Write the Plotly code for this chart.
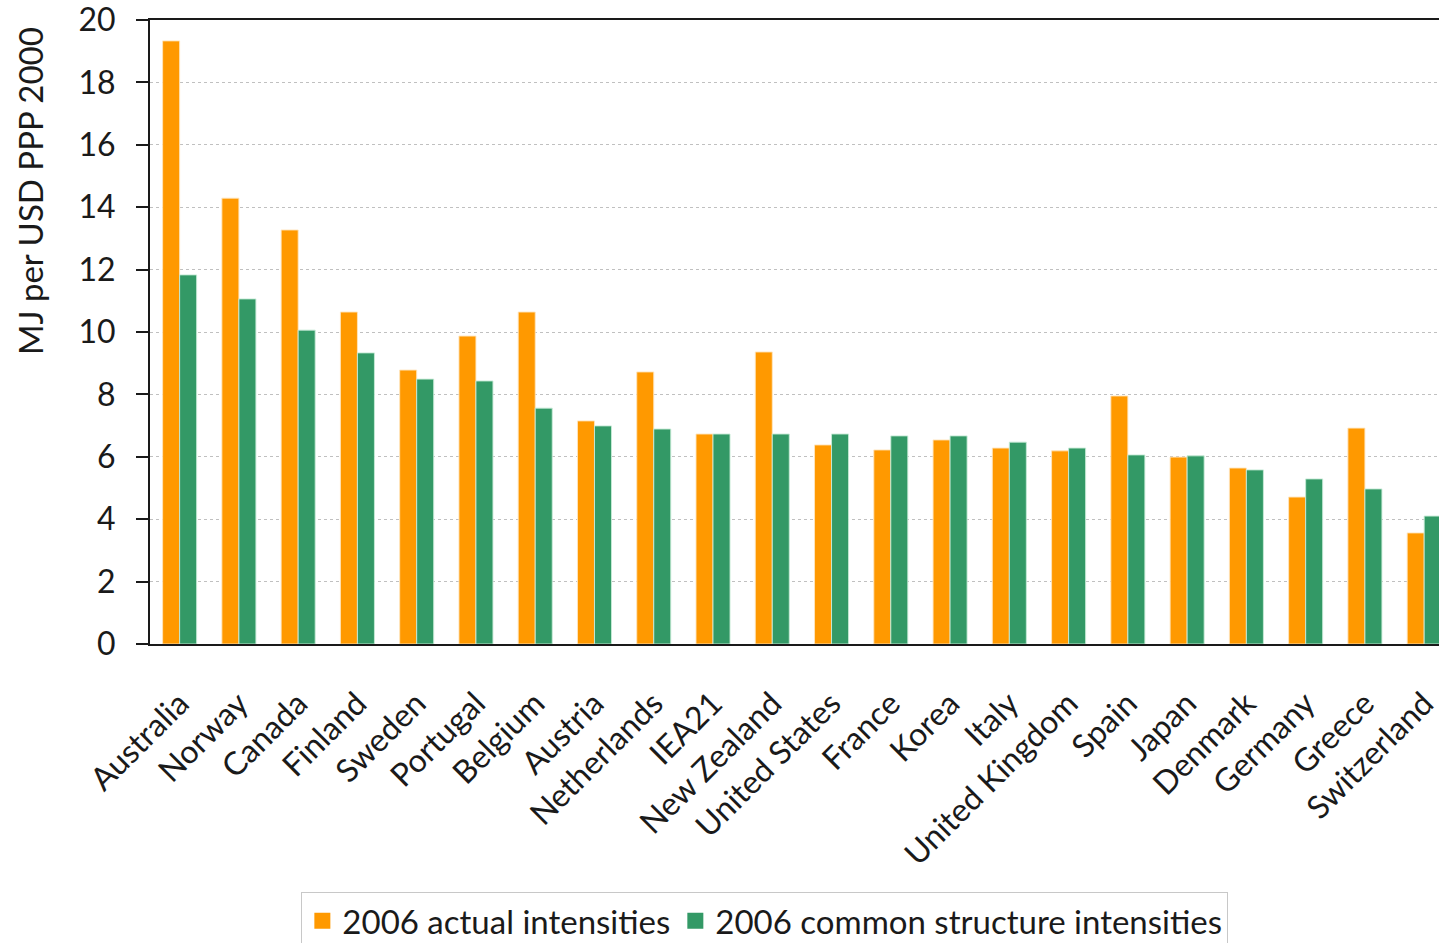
import plotly.graph_objects as go

countries = ["Australia", "Norway", "Canada", "Finland", "Sweden", "Portugal",
             "Belgium", "Austria", "Netherlands", "IEA21", "New Zealand",
             "United States", "France", "Korea", "Italy", "United Kingdom",
             "Spain", "Japan", "Denmark", "Germany", "Greece", "Switzerland"]
actual_2006 = [19.33, 14.29, 13.27, 10.64, 8.78, 9.87, 10.64, 7.15, 8.72, 6.73,
               9.36, 6.38, 6.22, 6.54, 6.28, 6.19, 7.95, 5.99, 5.64, 4.71, 6.92, 3.56]
common_2006 = [11.83, 11.06, 10.06, 9.33, 8.49, 8.43, 7.56, 6.99, 6.89, 6.73,
               6.73, 6.73, 6.67, 6.67, 6.47, 6.28, 6.06, 6.03, 5.58, 5.29, 4.97, 4.10]
y_ticks = [0, 2, 4, 6, 8, 10, 12, 14, 16, 18, 20]
series_names = ["2006 actual intensities", "2006 common structure intensities"]

FONT = "Lato"
TXT = "#1a1a1a"
ORANGE = "#FF9900"
GREEN = "#339966"

fig = go.Figure()
fig.add_trace(go.Bar(x=countries, y=actual_2006, name=series_names[0], showlegend=False,
                     marker=dict(color=ORANGE, line=dict(color="rgba(255,230,190,0.9)", width=1))))
fig.add_trace(go.Bar(x=countries, y=common_2006, name=series_names[1], showlegend=False,
                     marker=dict(color=GREEN, line=dict(color="rgba(200,235,215,0.9)", width=1))))

# legend entries with larger square swatches
for name, color in zip(series_names, [ORANGE, GREEN]):
    fig.add_trace(go.Scatter(x=[None], y=[None], mode="markers", name=name,
                             marker=dict(symbol="square", size=16, color=color)))

fig.update_layout(
    width=1439, height=943,
    margin=dict(l=150, r=0, t=20, b=299, autoexpand=False),
    paper_bgcolor="white", plot_bgcolor="white",
    barmode="group", bargap=0.426, bargroupgap=0,
    font=dict(family=FONT, size=32, color=TXT),
    showlegend=True,
    legend=dict(orientation="h", xanchor="center", yanchor="top",
                x=0.477, y=-0.397, bordercolor="#c8c8c8", borderwidth=1,
                font=dict(family=FONT, size=33, color=TXT),
                itemwidth=30, tracegroupgap=0, itemsizing="trace"),
)

fig.update_xaxes(
    type="category", range=[-0.5, 21.25],
    showline=True, linecolor=TXT, linewidth=2, mirror=True,
    ticks="", tickangle=-45, ticklabelstandoff=26,
    tickfont=dict(family=FONT, size=32, color=TXT),
    showgrid=False,
)
fig.update_yaxes(
    range=[0, 20], tickvals=y_ticks,
    showline=True, linecolor=TXT, linewidth=2,
    ticks="outside", ticklen=12, tickwidth=2, tickcolor=TXT,
    ticklabelstandoff=14, ticklabeloverflow="allow",
    tickfont=dict(family=FONT, size=32, color=TXT),
    showgrid=True, gridcolor="#c0c0c0", gridwidth=1, griddash="dot",
    zeroline=False,
)

fig.add_annotation(
    text="MJ per USD PPP 2000", textangle=-90,
    xref="paper", yref="paper", x=-0.093, y=0.726,
    xanchor="center", yanchor="middle", showarrow=False,
    font=dict(family=FONT, size=33, color=TXT),
)

fig.write_html("out.html")
